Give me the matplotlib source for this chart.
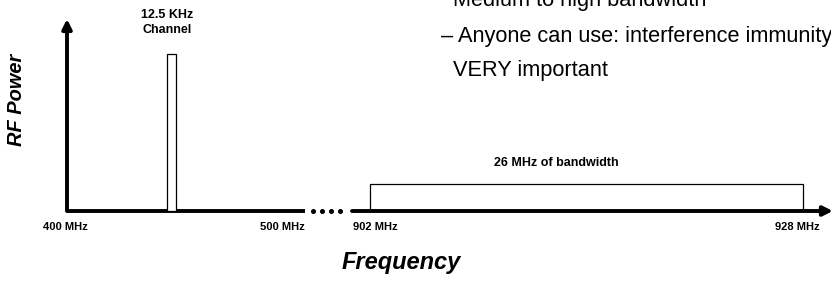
import numpy as np
import matplotlib
matplotlib.use('Agg')
import matplotlib.pyplot as plt
from matplotlib.lines import Line2D

plt.rcParams['font.family'] = 'Liberation Sans'

# Datos (MHz, potencia relativa)
low_band = [400, 500]
high_band = [902, 928]
channel_center = 444.0      # canal de 12.5 KHz (dibujado esquematico)
channel_width_drawn = 3.8
channel_power = 0.82
band_power = 0.14
band_label_x = 913.2
tick_labels = ['400 MHz', '500 MHz', '902 MHz', '928 MHz']
bullet_lines = ['Medium to high bandwidth',
                '\u2013 Anyone can use: interference immunity',
                'VERY important']

W, H = 831, 283
fig = plt.figure(figsize=(W / 100, H / 100), dpi=100)

ax1 = fig.add_axes([67 / W, 72 / H, 238 / W, 192 / H])
ax2 = fig.add_axes([352 / W, 72 / H, 479 / W, 192 / H])

ax1.set_xlim(low_band[0], low_band[1])
ax2.set_xlim(900.9, 929.7)
for ax in (ax1, ax2):
    ax.set_ylim(0, 1)
    ax.set_xticks([])
    ax.set_yticks([])
    for s in ax.spines.values():
        s.set_visible(False)
    ax.patch.set_alpha(0)

axis_lw = 2.8

# eje vertical con flecha
ax1.annotate('', xy=(0, 1), xytext=(0, 0), xycoords='axes fraction',
             arrowprops=dict(arrowstyle='-|>', lw=axis_lw, color='black',
                             mutation_scale=14, shrinkA=0, shrinkB=0))
# eje horizontal, tramo bajo
ax1.plot(low_band, [0, 0], color='black', lw=axis_lw, solid_capstyle='butt',
         clip_on=False)
# eje horizontal, tramo alto con flecha (la punta queda en el borde)
ax2.annotate('', xy=(1.004, 0), xytext=(0, 0), xycoords='axes fraction',
             arrowprops=dict(arrowstyle='-|>', lw=axis_lw, color='black',
                             mutation_scale=14, shrinkA=0, shrinkB=0))

# puntos de corte
fig.add_artist(Line2D(np.linspace(313, 340, 4) / W, [72 / H] * 4,
                      linestyle='none', marker='o', markersize=2.6,
                      color='black'))

# canal estrecho
ax1.bar(channel_center, channel_power, width=channel_width_drawn,
        facecolor='white', edgecolor='black', lw=0.9, zorder=3)
# banda ISM
ax2.bar(high_band[0], band_power, width=high_band[1] - high_band[0],
        align='edge', facecolor='white', edgecolor='black', lw=0.9, zorder=1)

lab_kw = dict(fontweight='bold', va='center', textcoords='offset pixels')
ax1.annotate(tick_labels[0], xy=(low_band[0], 0),
             xycoords=('data', 'axes fraction'), xytext=(-2, -16),
             ha='center', fontsize=8, **lab_kw)
ax1.annotate(tick_labels[1], xy=(low_band[1], 0),
             xycoords=('data', 'axes fraction'), xytext=(0, -16),
             ha='right', fontsize=8, **lab_kw)
ax2.annotate(tick_labels[2], xy=(high_band[0], 0),
             xycoords=('data', 'axes fraction'), xytext=(-17, -16),
             ha='left', fontsize=8, **lab_kw)
ax2.annotate(tick_labels[3], xy=(high_band[1], 0),
             xycoords=('data', 'axes fraction'), xytext=(-5, -16),
             ha='center', fontsize=8, **lab_kw)

ax1.annotate('12.5 KHz\nChannel', xy=(channel_center, channel_power),
             xytext=(-5, 31), ha='center', linespacing=1.25, fontsize=9,
             **lab_kw)
ax2.annotate('26 MHz of bandwidth', xy=(band_label_x, band_power),
             xytext=(0, 21), ha='center', fontsize=9, **lab_kw)

fig.text(17 / W, 1 - 100 / H, 'RF Power', rotation=90, fontsize=14.4,
         fontweight='bold', fontstyle='italic', ha='center', va='center')
fig.text(401 / W, 1 - 262 / H, 'Frequency', fontsize=17, fontweight='bold',
         fontstyle='italic', ha='center', va='center')

# texto de diapositiva (arriba a la derecha)
baselines = [6, 42, 76]
for line, yb in zip(bullet_lines, baselines):
    x = 441 if line.startswith('\u2013') else 453
    fig.text(x / W, 1 - yb / H, line, fontsize=15.7,
             ha='left', va='baseline')

plt.savefig('out.png', dpi=100)
